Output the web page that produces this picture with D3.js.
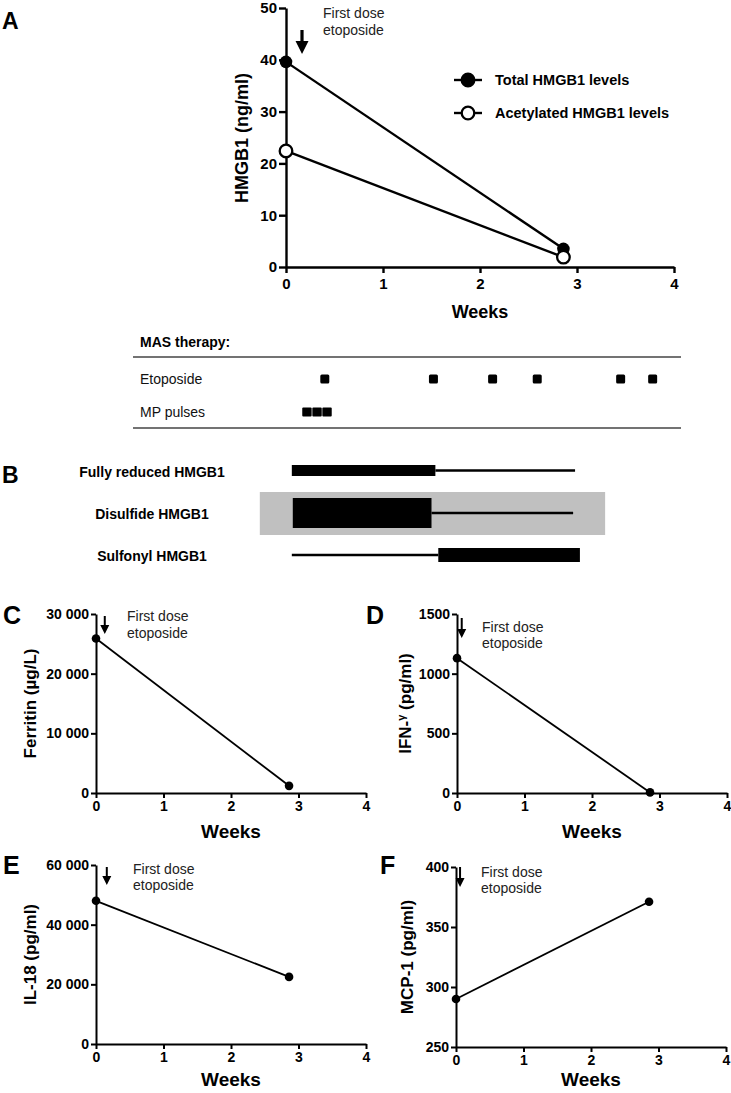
<!DOCTYPE html>
<html>
<head>
<meta charset="utf-8">
<script src="https://cdn.jsdelivr.net/npm/d3@7"></script>
<style>
body{margin:0;background:#fff}
svg{display:block;font-family:"Liberation Sans",Arial,sans-serif}
</style>
</head>
<body>
<svg id="fig" width="731" height="1093"></svg>
<script>
// values
var weeks = [0, 2.86];
var weekTicks = [0, 1, 2, 3, 4];
var totalHMGB1 = [39.6, 3.5];
var acetylHMGB1 = [22.4, 1.9];
var hmgbTicks = [0, 10, 20, 30, 40, 50];
var legendNames = ['Total HMGB1 levels', 'Acetylated HMGB1 levels'];

var therapyRows = ['Etoposide', 'MP pulses'];
var etoposideWeeks = [0.40, 1.52, 2.13, 2.59, 3.45, 3.78];
var mpPulseWeeks = [0.216, 0.32, 0.423];

var redoxForms = ['Fully reduced HMGB1', 'Disulfide HMGB1', 'Sulfonyl HMGB1'];
var redoxHigh = [[0.06, 1.54], [0.07, 1.50], [1.57, 3.03]];
var redoxLow = [[1.54, 2.98], [1.50, 2.96], [0.06, 1.57]];

var ferritin = [25900, 1200];
var ferritinTicks = [0, 10000, 20000, 30000];
var ifnGamma = [1130, 5];
var ifnTicks = [0, 500, 1000, 1500];
var il18 = [48000, 22500];
var il18Ticks = [0, 20000, 40000, 60000];
var mcp1 = [290, 371];
var mcpTicks = [250, 300, 350, 400];

var svg = d3.select('#fig');
// "30 000" style grouping
var spaceFmt = function(v){ return d3.format(',')(v).replace(',', ' '); };

function styleAxis(g, size, sw){
  g.selectAll('path,line').attr('stroke', '#000').attr('stroke-width', sw);
  g.selectAll('text').attr('font-size', size).attr('font-weight', 'bold').attr('fill', '#000').attr('font-family', '"Liberation Sans",Arial,sans-serif');
}

function arrow(x, top, tip, headW, headL, shaftW){
  var p = d3.path();
  p.moveTo(x - shaftW/2, top);
  p.lineTo(x + shaftW/2, top);
  p.lineTo(x + shaftW/2, tip - headL);
  p.lineTo(x + headW/2, tip - headL);
  p.lineTo(x, tip);
  p.lineTo(x - headW/2, tip - headL);
  p.lineTo(x - shaftW/2, tip - headL);
  p.closePath();
  svg.append('path').attr('d', p.toString()).attr('fill', '#000');
}

function firstDose(x, y1, y2, size){
  svg.append('text').attr('x', x).attr('y', y1).attr('font-size', size).attr('fill', '#222').text('First dose');
  svg.append('text').attr('x', x).attr('y', y2).attr('font-size', size).attr('fill', '#222').text('etoposide');
}

function letter(t, x, y, size){
  svg.append('text').attr('x', x).attr('y', y).attr('font-size', size).attr('font-weight', 'bold').text(t);
}

// ---------- panel A ----------
letter('A', 2, 29, 23);
var xA = d3.scaleLinear().domain([0, 4]).range([286, 674]);
var yA = d3.scaleLinear().domain([0, 50]).range([267, 8]);

svg.append('g').attr('transform', 'translate(0,267)')
  .call(d3.axisBottom(xA).tickValues(weekTicks).tickFormat(d3.format('d')).tickSize(6).tickSizeOuter(0).tickPadding(5))
  .call(styleAxis, 15, 2.4);
svg.append('g').attr('transform', 'translate(286,0)')
  .call(d3.axisLeft(yA).tickValues(hmgbTicks).tickSize(7).tickSizeOuter(0).tickPadding(2))
  .call(styleAxis, 15, 2.4);

svg.append('text').attr('transform', 'translate(248,138) rotate(-90)').attr('text-anchor', 'middle')
  .attr('font-size', 18).attr('font-weight', 'bold').text('HMGB1 (ng/ml)');
svg.append('text').attr('x', 480).attr('y', 318).attr('text-anchor', 'middle')
  .attr('font-size', 18).attr('font-weight', 'bold').text('Weeks');

var lineA = d3.line().x(function(d){ return xA(d[0]); }).y(function(d){ return yA(d[1]); });
var seriesA = [d3.zip(weeks, totalHMGB1), d3.zip(weeks, acetylHMGB1)];
seriesA.forEach(function(s){
  svg.append('path').datum(s).attr('d', lineA).attr('fill', 'none').attr('stroke', '#000').attr('stroke-width', 2.4);
});
svg.selectAll('.ptot').data(seriesA[0]).enter().append('circle')
  .attr('cx', function(d){ return xA(d[0]); }).attr('cy', function(d){ return yA(d[1]); })
  .attr('r', 6.3).attr('fill', '#000');
svg.selectAll('.pacc').data(seriesA[1]).enter().append('circle')
  .attr('cx', function(d){ return xA(d[0]); }).attr('cy', function(d){ return yA(d[1]); })
  .attr('r', 6.3).attr('fill', '#fff').attr('stroke', '#000').attr('stroke-width', 2.3);

arrow(xA(0.165), 30, 54, 13, 13, 3.2);
firstDose(323, 18, 35, 14);

// legend
legendNames.forEach(function(n, i){
  var y = 80 + i * 33;
  svg.append('line').attr('x1', 454).attr('x2', 482).attr('y1', y).attr('y2', y).attr('stroke', '#000').attr('stroke-width', 2.4);
  svg.append('circle').attr('cx', 468).attr('cy', y).attr('r', 6.3)
    .attr('fill', i ? '#fff' : '#000').attr('stroke', '#000').attr('stroke-width', 2.3);
  svg.append('text').attr('x', 495).attr('y', y + 5).attr('font-size', 14.5).attr('font-weight', 'bold').text(n);
});

// ---------- therapy table ----------
svg.append('text').attr('x', 140).attr('y', 347).attr('font-size', 14).attr('font-weight', 'bold').text('MAS therapy:');
[357, 428].forEach(function(y){
  svg.append('line').attr('x1', 133).attr('x2', 681).attr('y1', y).attr('y2', y).attr('stroke', '#444').attr('stroke-width', 1.4);
});
var rowY = [379, 412];
therapyRows.forEach(function(r, i){
  svg.append('text').attr('x', 140).attr('y', rowY[i] + 5).attr('font-size', 14).attr('fill', '#111').text(r);
});
svg.selectAll('.eto').data(etoposideWeeks).enter().append('rect')
  .attr('x', function(d){ return xA(d) - 4.5; }).attr('y', rowY[0] - 4.5)
  .attr('width', 9).attr('height', 9).attr('rx', 1.5).attr('fill', '#000');
svg.selectAll('.mp').data(mpPulseWeeks).enter().append('rect')
  .attr('x', function(d){ return xA(d) - 4.7; }).attr('y', rowY[1] - 4.5)
  .attr('width', 9.4).attr('height', 9).attr('rx', 1).attr('fill', '#000');

// ---------- panel B ----------
letter('B', 2, 483, 23);
var redoxY = [470.5, 513, 555];
var highH = [11, 30, 14];
svg.append('rect').attr('x', xA(-0.27)).attr('y', 492).attr('width', xA(3.29) - xA(-0.27)).attr('height', 43).attr('fill', '#c0c0c0');
redoxForms.forEach(function(n, i){
  svg.append('text').attr('x', 152).attr('y', redoxY[i] + 6).attr('text-anchor', 'middle')
    .attr('font-size', 14).attr('font-weight', 'bold').text(n);
  svg.append('line').attr('x1', xA(redoxLow[i][0])).attr('x2', xA(redoxLow[i][1]))
    .attr('y1', redoxY[i]).attr('y2', redoxY[i]).attr('stroke', '#000').attr('stroke-width', 2.4);
  svg.append('rect').attr('x', xA(redoxHigh[i][0])).attr('y', redoxY[i] - highH[i]/2)
    .attr('width', xA(redoxHigh[i][1]) - xA(redoxHigh[i][0])).attr('height', highH[i]).attr('fill', '#000');
});

// ---------- panels C-F ----------
var small = [
  {letter: 'C', lx: 3, ly: 624, xr: [96, 366], yr: [793, 614], vals: ferritin, ticks: ferritinTicks, fmt: spaceFmt,
   label: 'Ferritin (\u00b5g/L)', labX: 30, arrowW: 0.13, arrowY: [616, 634], textX: 127, textY: [621, 638], wy: 838},
  {letter: 'D', lx: 366, ly: 624, xr: [457, 727], yr: [793, 614], vals: ifnGamma, ticks: ifnTicks, fmt: d3.format('d'),
   label: 'IFN-', sup: '\u03b3', labX: 405, arrowW: 0.07, arrowY: [618, 638], textX: 482, textY: [632, 648], wy: 838},
  {letter: 'E', lx: 3, ly: 874, xr: [96, 366], yr: [1044, 865], vals: il18, ticks: il18Ticks, fmt: spaceFmt,
   label: 'IL-18 (pg/ml)', labX: 30, arrowW: 0.16, arrowY: [867, 885], textX: 133, textY: [874, 890], wy: 1086},
  {letter: 'F', lx: 380, ly: 874, xr: [456, 726], yr: [1047, 867], vals: mcp1, ticks: mcpTicks, fmt: d3.format('d'),
   label: 'MCP-1 (pg/ml)', labX: 407, arrowW: 0.06, arrowY: [867, 887], textX: 481, textY: [877, 893], wy: 1086}
];

small.forEach(function(p){
  letter(p.letter, p.lx, p.ly, 25);
  var x = d3.scaleLinear().domain([0, 4]).range(p.xr);
  var y = d3.scaleLinear().domain([p.ticks[0], p.ticks[p.ticks.length - 1]]).range(p.yr);
  svg.append('g').attr('transform', 'translate(0,' + p.yr[0] + ')')
    .call(d3.axisBottom(x).tickValues(weekTicks).tickFormat(d3.format('d')).tickSize(5).tickSizeOuter(0).tickPadding(3))
    .call(styleAxis, 14, 2);
  svg.append('g').attr('transform', 'translate(' + p.xr[0] + ',0)')
    .call(d3.axisLeft(y).tickValues(p.ticks).tickFormat(p.fmt).tickSize(5).tickSizeOuter(0).tickPadding(2))
    .call(styleAxis, 14, 2);

  var cy = (p.yr[0] + p.yr[1]) / 2;
  var lab = svg.append('text').attr('transform', 'translate(' + p.labX + ',' + cy + ') rotate(-90)')
    .attr('text-anchor', 'middle').attr('dy', '0.35em').attr('font-size', 17).attr('font-weight', 'bold').text(p.label);
  if (p.sup) {
    lab.append('tspan').attr('font-size', 11).attr('dy', '-0.5em').text(p.sup);
    lab.append('tspan').attr('dy', '0.32em').text(' (pg/ml)');
  }
  svg.append('text').attr('x', (p.xr[0] + p.xr[1]) / 2).attr('y', p.wy).attr('text-anchor', 'middle')
    .attr('font-size', 19).attr('font-weight', 'bold').text('Weeks');

  var pts = d3.zip(weeks, p.vals);
  var ln = d3.line().x(function(d){ return x(d[0]); }).y(function(d){ return y(d[1]); });
  svg.append('path').datum(pts).attr('d', ln).attr('fill', 'none').attr('stroke', '#000').attr('stroke-width', 1.8);
  svg.selectAll(null).data(pts).enter().append('circle')
    .attr('cx', function(d){ return x(d[0]); }).attr('cy', function(d){ return y(d[1]); })
    .attr('r', 4.3).attr('fill', '#000');

  arrow(x(p.arrowW), p.arrowY[0], p.arrowY[1], 9, 9, 2);
  firstDose(p.textX, p.textY[0], p.textY[1], 14);
});
</script>
</body>
</html>
